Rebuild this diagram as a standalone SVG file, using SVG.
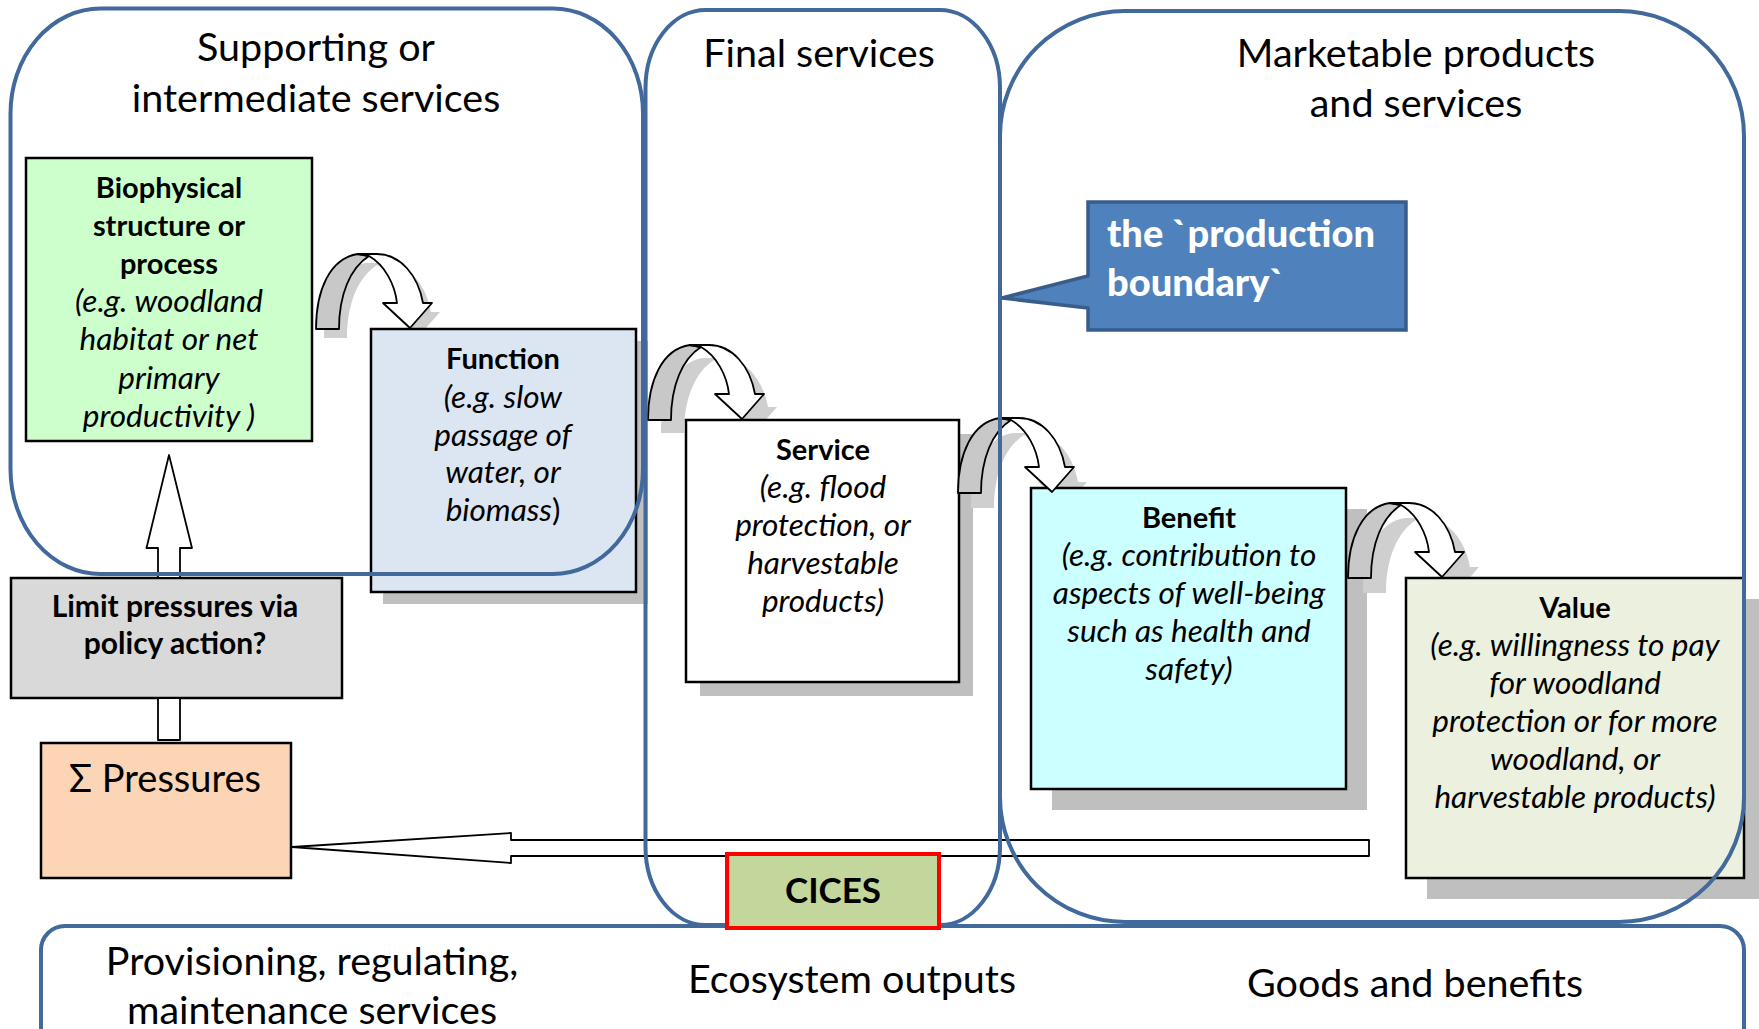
<svg xmlns="http://www.w3.org/2000/svg" width="1759" height="1029" viewBox="0 0 1759 1029">
<style>
.t{font-family:Lato,"Open Sans","Liberation Sans",sans-serif;fill:#000}
.ttl{font-size:39.5px;text-anchor:middle}
.nb{font-size:29px;font-weight:bold;text-anchor:middle}
.ni{font-size:31.5px;font-style:italic;text-anchor:middle}
.box{stroke:#000;stroke-width:2.5}
.sh{fill:#BFBFBF}
.ash{fill:#CFCFCF}
.reg{fill:none;stroke:#41699B;stroke-width:4}
.ln{stroke:#000;stroke-width:1.8;stroke-linejoin:round}
</style>
<defs>
<path id="cOut" d="M316,329 C316,290 330,258 358,254 L377,254 C400,254 418,275 423,303 L432,303 L410,328 L383,303 L397,303 C395,285 385,265 369,256 C350,268 339,295 339,329 Z"/>
<path id="cBack" d="M316,329 C316,290 330,258 358,254 L369,256 C350,268 339,295 339,329 Z"/>
<path id="cFront" d="M358,254 L377,254 C400,254 418,275 423,303 L432,303 L410,328 L383,303 L397,303 C395,285 385,265 369,256 Z"/>
</defs>
<rect width="1759" height="1029" fill="#fff"/>
<g id="shadows">
<rect class="sh" x="383" y="341" width="265" height="263"/>
<rect class="sh" x="700" y="434" width="273" height="262"/>
<rect class="sh" x="1052" y="509" width="315" height="301"/>
<rect class="sh" x="1427" y="599" width="338" height="300"/>
<use href="#cOut" class="ash" transform="translate(8,9)"/>
<use href="#cOut" class="ash" transform="translate(345,104)"/>
<use href="#cOut" class="ash" transform="translate(655,179)"/>
<use href="#cOut" class="ash" transform="translate(1047,264)"/>
</g>
<g id="node-biophysical">
<rect class="box" x="26" y="158" width="286" height="283" fill="#CCFFCC"/>
<text class="t nb" x="169" y="198">Biophysical</text>
<text class="t nb" x="169" y="236">structure or</text>
<text class="t nb" x="169" y="274">process</text>
<text class="t ni" x="169" y="312">(e.g. woodland</text>
<text class="t ni" x="169" y="350">habitat or net</text>
<text class="t ni" x="169" y="389">primary</text>
<text class="t ni" x="169" y="427">productivity )</text>
</g>
<g id="node-function">
<rect class="box" x="371" y="329" width="265" height="263" fill="#DCE6F2"/>
<text class="t nb" x="503" y="369">Function</text>
<text class="t ni" x="503" y="408">(e.g. slow</text>
<text class="t ni" x="503" y="446">passage of</text>
<text class="t ni" x="503" y="483">water, or</text>
<text class="t ni" x="503" y="521">biomass<tspan font-style="normal">)</tspan></text>
</g>
<g id="node-service">
<rect class="box" x="686" y="420" width="273" height="262" fill="#FFFFFF"/>
<text class="t nb" x="823" y="460">Service</text>
<text class="t ni" x="823" y="498">(e.g. flood</text>
<text class="t ni" x="823" y="536">protection, or</text>
<text class="t ni" x="823" y="574">harvestable</text>
<text class="t ni" x="823" y="612">products)</text>
</g>
<g id="node-benefit">
<rect class="box" x="1031" y="488" width="315" height="301" fill="#CCFFFF"/>
<text class="t nb" x="1189" y="528">Benefit</text>
<text class="t ni" x="1189" y="566">(e.g. contribution to</text>
<text class="t ni" x="1189" y="604">aspects of well-being</text>
<text class="t ni" x="1189" y="642">such as health and</text>
<text class="t ni" x="1189" y="680">safety)</text>
</g>
<g id="node-value">
<rect class="box" x="1406" y="578" width="338" height="300" fill="#EBF1DE"/>
<text class="t nb" x="1575" y="618">Value</text>
<text class="t ni" x="1575" y="656">(e.g. willingness to pay</text>
<text class="t ni" x="1575" y="694">for woodland</text>
<text class="t ni" x="1575" y="732">protection or for more</text>
<text class="t ni" x="1575" y="770">woodland, or</text>
<text class="t ni" x="1575" y="808">harvestable products)</text>
</g>
<g id="node-limit">
<rect class="box" x="11" y="578" width="331" height="120" fill="#D9D9D9"/>
<text class="t nb" x="175" y="617" style="font-size:30px">Limit pressures via</text>
<text class="t nb" x="175" y="654" style="font-size:30px">policy action?</text>
</g>
<g id="node-pressures">
<rect class="box" x="41" y="743" width="250" height="135" fill="#FBD5B5"/>
<text class="t" x="69" y="792" style="font-size:38px">Σ Pressures</text>
</g>
<g id="connectors">
<g class="ln">
<use href="#cBack" fill="#C8C8C8"/>
<use href="#cFront" fill="#FFFFFF"/>
</g>
<g class="ln" transform="translate(332,91)">
<use href="#cBack" fill="#C8C8C8"/>
<use href="#cFront" fill="#FFFFFF"/>
</g>
<g class="ln" transform="translate(642,164)">
<use href="#cBack" fill="#C8C8C8"/>
<use href="#cFront" fill="#FFFFFF"/>
</g>
<g class="ln" transform="translate(1032,249)">
<use href="#cBack" fill="#C8C8C8"/>
<use href="#cFront" fill="#FFFFFF"/>
</g>
<polygon class="ln" fill="#fff" points="169,455 192,548 180,548 180,578 158,578 158,548 146.5,548"/>
<rect class="ln" fill="#fff" x="158" y="698" width="22" height="42"/>
<polygon class="ln" fill="#fff" points="292,847 511,833 511,840 1369,840 1369,856 511,856 511,863"/>
</g>
<g id="regions">
<rect class="reg" x="10.5" y="8.5" width="632.5" height="565.5" rx="90" ry="105"/>
<rect class="reg" x="645.5" y="10" width="354.5" height="915" rx="60" ry="78"/>
<rect class="reg" x="1000" y="11" width="744" height="911" rx="125" ry="125"/>
<rect class="reg" x="41" y="926" width="1703" height="140" rx="24" ry="24"/>
</g>
<g id="node-cices">
<rect x="727" y="854" width="212" height="74" fill="#C3D69B" stroke="#FF0000" stroke-width="4"/>
<text class="t nb" x="833" y="903" style="font-size:35px">CICES</text>
</g>
<g id="node-callout">
<path d="M1088,202 L1406,202 L1406,330 L1088,330 L1088,308 L1002,298 L1088,276 Z" fill="#4F81BD" stroke="#385D8A" stroke-width="3.5"/>
<text class="t" x="1107" y="247" style="font-size:38px;font-weight:900;fill:#fff">the `production</text>
<text class="t" x="1107" y="296" style="font-size:38px;font-weight:900;fill:#fff">boundary`</text>
</g>
<g id="labels">
<text class="t ttl" x="316" y="61">Supporting or</text>
<text class="t ttl" x="316" y="112">intermediate services</text>
<text class="t ttl" x="819" y="67">Final services</text>
<text class="t ttl" x="1416" y="67">Marketable products</text>
<text class="t ttl" x="1416" y="117">and services</text>
<text class="t ttl" x="312" y="975">Provisioning, regulating,</text>
<text class="t ttl" x="312" y="1024">maintenance services</text>
<text class="t ttl" x="852" y="993">Ecosystem outputs</text>
<text class="t ttl" x="1415" y="997">Goods and benefits</text>
</g>
</svg>
